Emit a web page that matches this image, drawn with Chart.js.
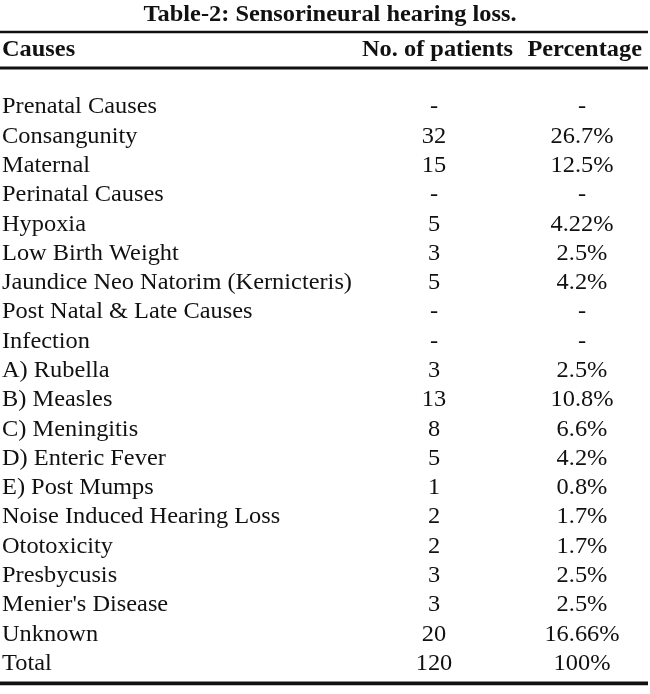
<!DOCTYPE html>
<html>
<head>
<meta charset="utf-8">
<script src="https://cdn.jsdelivr.net/npm/chart.js@4/dist/chart.umd.min.js"></script>
<style>
  html, body { margin: 0; padding: 0; background: #fff; }
  canvas { display: block; }
</style>
</head>
<body>
<canvas id="hearingTable" width="650" height="694"></canvas>
<script>
// table data
var title = 'Table-2: Sensorineural hearing loss.'
var headers = ['Causes', 'No. of patients', 'Percentage']
var causes = [
  'Prenatal Causes', 'Consangunity', 'Maternal', 'Perinatal Causes', 'Hypoxia',
  'Low Birth Weight', 'Jaundice Neo Natorim (Kernicteris)', 'Post Natal & Late Causes',
  'Infection', 'A) Rubella', 'B) Measles', 'C) Meningitis', 'D) Enteric Fever',
  'E) Post Mumps', 'Noise Induced Hearing Loss', 'Ototoxicity', 'Presbycusis',
  "Menier's Disease", 'Unknown', 'Total'
]
var patients = ['-', '32', '15', '-', '5', '3', '5', '-', '-', '3', '13', '8', '5', '1', '2', '2', '3', '3', '20', '120']
var percentages = ['-', '26.7%', '12.5%', '-', '4.22%', '2.5%', '4.2%', '-', '-', '2.5%', '10.8%', '6.6%', '4.2%', '0.8%', '1.7%', '1.7%', '2.5%', '2.5%', '16.66%', '100%']

// layout: x in px units of the linear x scale, y in row units (text baselines)
var colX = [2, 434, 582]
var colAlign = ['left', 'center', 'center']
var headerX = [2, 513, 642]
var headerAlign = ['left', 'right', 'right']
var titleX = 330
var titleRow = -3.14
var headerRow = -1.96
var rules = [{ y: -2.78, w: 2.6 }, { y: -1.55, w: 2.8 }, { y: 19.46, w: 3.6 }]
var stretchX = 1.06
var bodyFont = '23px "Liberation Serif"'
var boldFont = 'bold 23px "Liberation Serif"'

function columnData(values, col) {
  return values.map(function (v, i) { return { x: colX[col], y: i, label: v } })
}

function drawText(ctx, text, x, y, align) {
  ctx.save()
  ctx.translate(x, y)
  ctx.scale(stretchX, 1)
  ctx.textAlign = align
  ctx.fillText(text, 0, 0)
  ctx.restore()
}

var tableText = {
  id: 'tableText',
  afterDatasetsDraw: function (chart) {
    var ctx = chart.ctx
    var xs = chart.scales.x
    var ys = chart.scales.y
    ctx.save()
    ctx.fillStyle = '#111'
    ctx.textBaseline = 'alphabetic'

    // rules
    ctx.strokeStyle = '#111'
    rules.forEach(function (r) {
      var py = ys.getPixelForValue(r.y)
      ctx.lineWidth = r.w
      ctx.beginPath()
      ctx.moveTo(xs.getPixelForValue(0), py)
      ctx.lineTo(xs.getPixelForValue(648), py)
      ctx.stroke()
    })

    // title + headers
    ctx.font = boldFont
    drawText(ctx, title, xs.getPixelForValue(titleX), ys.getPixelForValue(titleRow), 'center')
    headers.forEach(function (h, c) {
      drawText(ctx, h, xs.getPixelForValue(headerX[c]), ys.getPixelForValue(headerRow), headerAlign[c])
    })

    // cells
    ctx.font = bodyFont
    chart.data.datasets.forEach(function (ds, d) {
      var meta = chart.getDatasetMeta(d)
      meta.data.forEach(function (pt, i) {
        drawText(ctx, ds.data[i].label, pt.x, pt.y, colAlign[d])
      })
    })
    ctx.restore()
  }
}

function drawTable() {
  return new Chart(document.getElementById('hearingTable'), {
    type: 'scatter',
    data: {
      datasets: [
        { data: columnData(causes, 0) },
        { data: columnData(patients, 1) },
        { data: columnData(percentages, 2) }
      ]
    },
    options: {
      responsive: false,
      animation: false,
      devicePixelRatio: 1,
      layout: { padding: 0 },
      elements: { point: { radius: 0, hoverRadius: 0 } },
      plugins: { legend: { display: false }, tooltip: { enabled: false } },
      events: [],
      scales: {
        x: { type: 'linear', min: 0, max: 650, display: false },
        y: { type: 'linear', reverse: true, min: -3.872, max: 19.822, display: false }
      }
    },
    plugins: [tableText]
  })
}

Promise.all([
  document.fonts.load(bodyFont),
  document.fonts.load(boldFont)
]).then(drawTable, drawTable)
</script>
</body>
</html>
